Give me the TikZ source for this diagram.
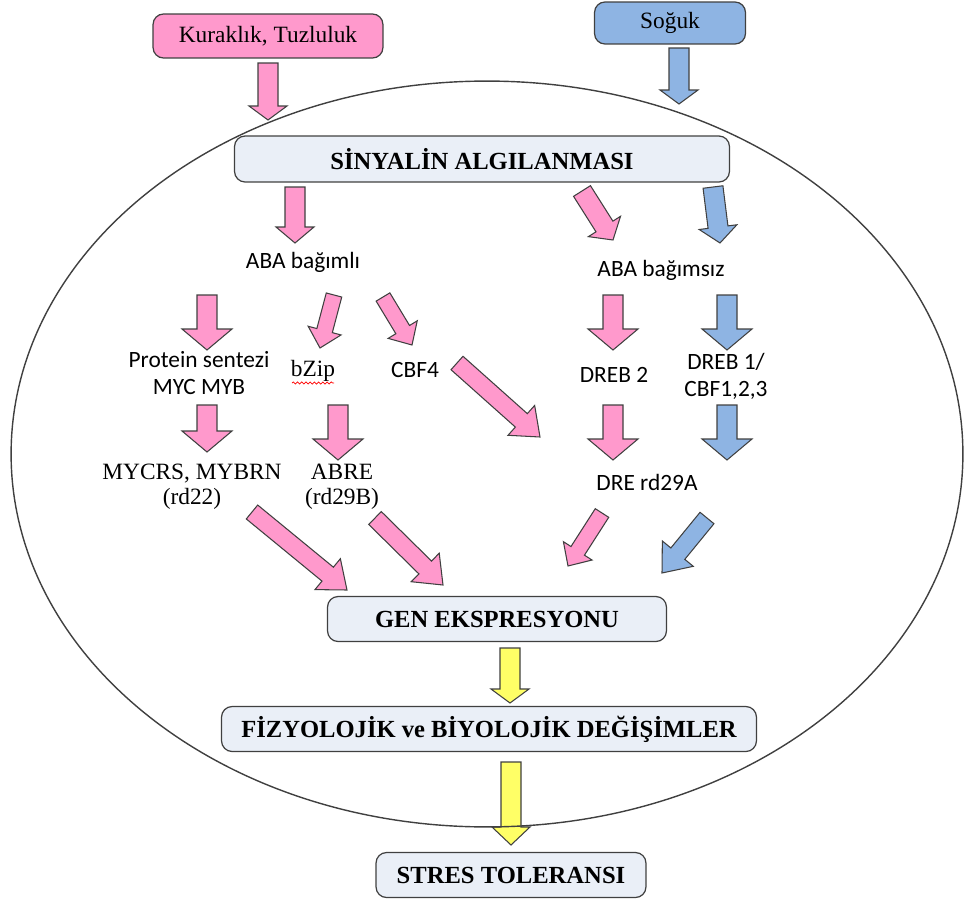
\documentclass[tikz,border=0pt]{standalone}
\usepackage{fontspec}
\setmainfont{Liberation Serif}
\newfontfamily\calibfont{Carlito}
\usetikzlibrary{calc,decorations.pathmorphing}

\definecolor{pinkc}{HTML}{FF99CC}
\definecolor{bluec}{HTML}{8EB4E3}
\definecolor{yellowc}{HTML}{FFFF66}
\definecolor{boxc}{HTML}{EAEFF7}
\definecolor{linec}{HTML}{404040}

% default sizes of the block arrows
\newcommand\arrSW{0.2cm}
\newcommand\arrHW{0.38cm}
\newcommand\arrHL{0.28cm}

\begin{document}
\begin{tikzpicture}[x=0.02cm,y=-0.02cm,
  box/.style={draw=linec,line width=0.7pt,rounded corners=6pt,fill=boxc,
    font=\fontsize{14}{16}\selectfont\bfseries,inner sep=0pt},
  src/.style={box,fill=#1,font=\fontsize{13.3}{16}\selectfont},
  lbl/.style={font=\calibfont\fontsize{13.3}{15.5}\selectfont,align=center,inner sep=0pt},
  slbl/.style={font=\fontsize{13.3}{14.3}\selectfont,align=center,inner sep=0pt},
  shaftw/.code={\def\arrSW{#1}},
  headw/.code={\def\arrHW{#1}},
  headl/.code={\def\arrHL{#1}},
  bighead/.style={headw=0.5cm,headl=0.42cm},
  slim/.style={shaftw=0.16cm,headw=0.34cm,headl=0.36cm},
  diag/.style={shaftw=0.18cm,headw=0.4cm,headl=0.5cm},
  barrow/.style={draw=linec,fill=#1,line width=0.6pt,
    to path={let \p1=($(\tikztotarget)!\arrHL!(\tikztostart)$) in
      ($(\tikztostart)!\arrSW!90:(\tikztotarget)$) -- ($(\p1)!\arrSW!90:(\tikztotarget)$)
      -- ($(\p1)!\arrHW!90:(\tikztotarget)$) -- (\tikztotarget)
      -- ($(\p1)!\arrHW!-90:(\tikztotarget)$) -- ($(\p1)!\arrSW!-90:(\tikztotarget)$)
      -- ($(\tikztostart)!\arrSW!-90:(\tikztotarget)$) -- cycle}}]

\useasboundingbox (0,0) rectangle (964,899);

\node [src=pinkc,minimum width=4.6cm,minimum height=0.88cm] (kurak) at (268,36) {Kuraklık, Tuzluluk};
\node [src=bluec,minimum width=3.02cm,minimum height=0.84cm] (soguk) at (670,23) {Soğuk};
\node [box,minimum width=9.9cm,minimum height=0.92cm] (sinyal) at (482,159) {SİNYALİN ALGILANMASI};

\node [lbl] (abadep) at (303,262) {ABA bağımlı};
\node [lbl] (abaind) at (661,270) {ABA bağımsız};

\node [lbl] (prot) at (199,373) {Protein sentezi\\MYC MYB};
\node [slbl] (bzip) at (313,371) {bZip};
\node [lbl] (cbf4) at (415,370) {CBF4};
\node [lbl] (dreb2) at (614,375) {DREB 2};
\node [lbl] (dreb1) at (726,376) {DREB 1/\\CBF1,2,3};

\node [slbl] (mycrs) at (192,487) {MYCRS, MYBRN\\(rd22)};
\node [slbl] (abre) at (342,487) {ABRE\\(rd29B)};
\node [lbl] (dre) at (647,482) {DRE rd29A};

\node [box,minimum width=6.78cm,minimum height=0.9cm] (gen) at (497,619) {GEN EKSPRESYONU};
\node [box,minimum width=10.7cm,minimum height=0.9cm] (fiz) at (489,729) {FİZYOLOJİK ve BİYOLOJİK DEĞİŞİMLER};
\node [box,minimum width=5.4cm,minimum height=0.9cm] (stres) at (511,875) {STRES TOLERANSI};

% spell check wave under bZip
\draw [red,line width=0.4pt,decorate,decoration={snake,amplitude=0.6pt,segment length=2.4pt}]
  ([shift={(-21,12)}]bzip.center) -- ([shift={(21,12)}]bzip.center);

% stress signals
\path
  ([shift={(0,27)}]kurak.center) edge [barrow=pinkc] ([shift={(-214,-39)}]sinyal.center)
  ([shift={(9,25)}]soguk.center) edge [barrow=bluec] ([shift={(197,-55)}]sinyal.center);

\path
  ([shift={(-187,28)}]sinyal.center) edge [barrow=pinkc,headl=0.32cm] ([shift={(-8,-19)}]abadep.center)
  ([shift={(100,32)}]sinyal.center) edge [barrow=pinkc,headl=0.32cm] ([shift={(-48,-30)}]abaind.center)
  ([shift={(231,28)}]sinyal.center) edge [barrow=bluec,headl=0.32cm] ([shift={(59,-27)}]abaind.center);

% ABA dependent / independent
\path
  ([shift={(-96,33)}]abadep.center) edge [barrow=pinkc,bighead] ([shift={(8,-23)}]prot.center)
  ([shift={(31,33)}]abadep.center) edge [barrow=pinkc,slim] ([shift={(7,-23)}]bzip.center)
  ([shift={(80,35)}]abadep.center) edge [barrow=pinkc,slim] ([shift={(-3,-25)}]cbf4.center)
  ([shift={(-48,25)}]abaind.center) edge [barrow=pinkc,bighead] ([shift={(-1,-25)}]dreb2.center)
  ([shift={(66,25)}]abaind.center) edge [barrow=bluec,bighead] ([shift={(1,-26)}]dreb1.center);

\path
  ([shift={(8,32)}]prot.center) edge [barrow=pinkc,bighead] ([shift={(15,-35)}]mycrs.center)
  ([shift={(25,34)}]bzip.center) edge [barrow=pinkc,bighead] ([shift={(-4,-27)}]abre.center)
  ([shift={(42,-7)}]cbf4.center) edge [barrow=pinkc,diag] ([shift={(-107,-45)}]dre.center)
  ([shift={(-1,30)}]dreb2.center) edge [barrow=pinkc,bighead] ([shift={(-34,-22)}]dre.center)
  ([shift={(1,29)}]dreb1.center) edge [barrow=bluec,bighead] ([shift={(80,-22)}]dre.center);

% towards gene expression
\path
  ([shift={(60,25)}]mycrs.center) edge [barrow=pinkc,diag] ([shift={(-150,-29)}]gen.center)
  ([shift={(33,31)}]abre.center) edge [barrow=pinkc,diag] ([shift={(-54,-34)}]gen.center)
  ([shift={(-45,31)}]dre.center) edge [barrow=pinkc,slim] ([shift={(71,-53)}]gen.center)
  ([shift={(60,36)}]dre.center) edge [barrow=bluec,diag] ([shift={(165,-46)}]gen.center);

\path
  ([shift={(13,29)}]gen.center) edge [barrow=yellowc] ([shift={(21,-26)}]fiz.center)
  ([shift={(22,33)}]fiz.center) edge [barrow=yellowc,headl=0.36cm] ([shift={(0,-30)}]stres.center);

% the cell
\draw [linec,line width=0.8pt] (487,454) ellipse [x radius=9.52cm,y radius=7.46cm];

\end{tikzpicture}
\end{document}
